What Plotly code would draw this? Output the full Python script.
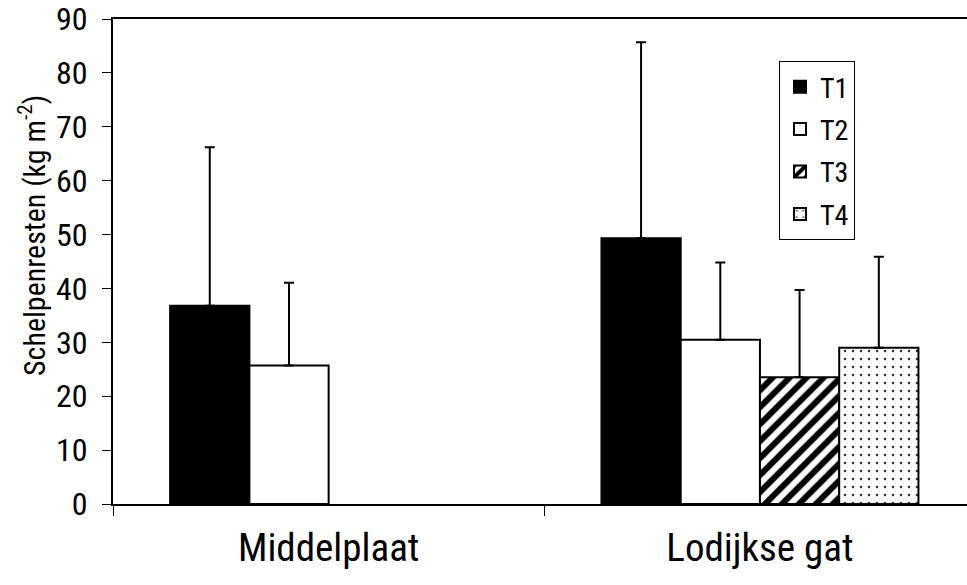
import plotly.graph_objects as go

categories = [0, 1]
category_labels = ["Middelplaat", "Lodijkse gat"]
series_names = ["T1", "T2", "T3", "T4"]
values = {
    "T1": [36.8, 49.3],
    "T2": [25.7, 30.5],
    "T3": [None, 23.5],
    "T4": [None, 29.0],
}
errors = {
    "T1": [29.4, 36.4],
    "T2": [15.35, 14.3],
    "T3": [0, 16.2],
    "T4": [0, 16.9],
}
y_ticks = [0, 10, 20, 30, 40, 50, 60, 70, 80, 90]

FONT = "Liberation Sans Narrow, Arial Narrow, Roboto Condensed, DejaVu Sans Condensed, sans-serif"

styles = {
    "T1": dict(color="black"),
    "T2": dict(color="white"),
    "T3": dict(color="white", pattern=dict(shape="/", fgcolor="#000000", bgcolor="#ffffff",
                                            fgopacity=1, fillmode="replace", size=12, solidity=0.5)),
    "T4": dict(color="white", pattern=dict(shape=".", fgcolor="#333333", bgcolor="#ffffff",
                                            fgopacity=1, fillmode="replace", size=8, solidity=0.08)),
}

fig = go.Figure()
for i, name in enumerate(series_names):
    st = styles[name]
    marker = dict(color=st["color"], line=dict(color="black", width=2))
    if "pattern" in st:
        marker["pattern"] = st["pattern"]
    fig.add_trace(go.Bar(
        x=categories, y=values[name], name=name,
        marker=marker,
        legendgroup=name,
        error_y=dict(type="data", array=errors[name], arrayminus=[0, 0], symmetric=False,
                     color="black", thickness=2, width=5),
    ))

fig.update_layout(
    width=967, height=585,
    margin=dict(l=113, r=0, t=19, b=81),
    paper_bgcolor="white", plot_bgcolor="white",
    font=dict(family=FONT, color="black", size=28),
    barmode="group", bargap=0.265, bargroupgap=0,
    showlegend=True,
    legend=dict(
        x=(779 - 113) / 854, y=(504 - 61) / 485, xanchor="left", yanchor="top",
        bordercolor="black", borderwidth=1, bgcolor="white",
        font=dict(size=28, family=FONT),
        traceorder="grouped", tracegroupgap=3,
        itemwidth=30,
    ),
    xaxis=dict(
        range=[-0.5, -0.5 + 854 / 431.3],
        tickmode="array", tickvals=categories, ticktext=category_labels,
        ticks="", ticklen=0,
        tickfont=dict(size=39, family=FONT),
        showline=True, linecolor="black", linewidth=2, mirror=True,
        showgrid=False, zeroline=False,
        minor=dict(tickmode="array", tickvals=[-0.5, 0.5, 1.5], ticks="outside",
                   ticklen=10, tickwidth=1, tickcolor="black"),
        ticklabelstandoff=8,
    ),
    yaxis=dict(
        range=[0, 90], tickmode="array", tickvals=y_ticks,
        ticks="outside", ticklen=9, tickwidth=1, tickcolor="black",
        showline=True, linecolor="black", linewidth=2, mirror=False,
        showgrid=False, zeroline=False,
        tickfont=dict(size=32, family=FONT),
        ticklabelstandoff=8,
    ),
    annotations=[dict(
        text="Schelpenresten (kg m<sup>-2</sup>)",
        xref="paper", yref="paper", x=(33 - 113) / 854, y=(504 - 236) / 485,
        xanchor="center", yanchor="middle", textangle=-90, showarrow=False,
        font=dict(size=30, family=FONT),
    )],
)

fig.write_html("out.html")
